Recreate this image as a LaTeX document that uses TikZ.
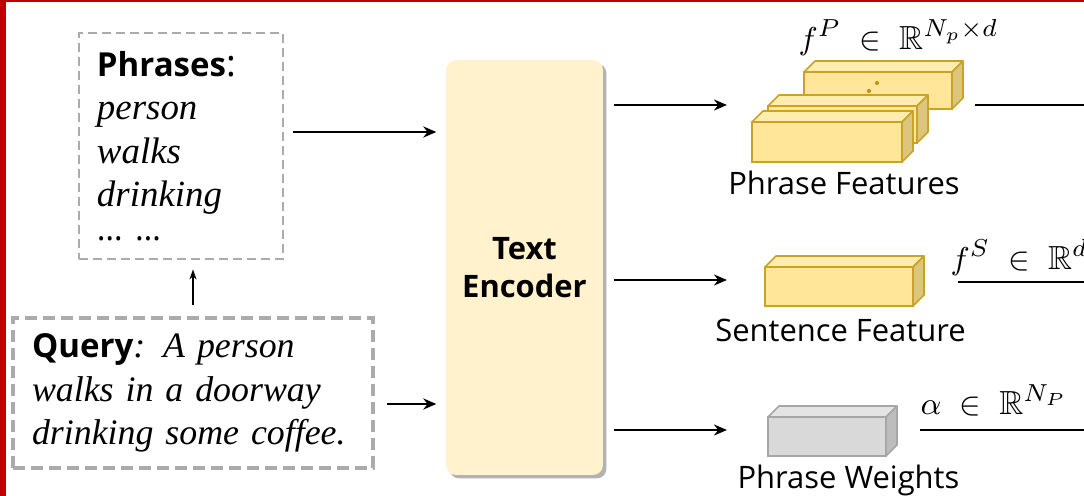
\documentclass[tikz,border=0pt]{standalone}
\usepackage{fontspec}
\setmainfont{Liberation Serif}
\setsansfont{Open Sans}
\usepackage{amssymb}
\usetikzlibrary{arrows.meta,shadows}

\definecolor{encfill}{HTML}{FFF2CC}
\definecolor{boxgray}{HTML}{ABABAB}
\definecolor{redframe}{HTML}{C00000}
\definecolor{yelfront}{HTML}{FFE699}
\definecolor{yeltop}{HTML}{FFEDB0}
\definecolor{yelside}{HTML}{DCC57E}
\definecolor{yelline}{HTML}{C9A227}
\definecolor{gryfront}{HTML}{D9D9D9}
\definecolor{grytop}{HTML}{E4E4E4}
\definecolor{gryside}{HTML}{BDBDBD}
\definecolor{gryline}{HTML}{A6A6A6}
\definecolor{dotbrown}{HTML}{BF8F00}

\tikzset{
  arr/.style={line width=0.85pt, -{Stealth[length=0.13cm,width=0.11cm]}},
  thinarr/.style={line width=0.45pt, -{Stealth[length=0.1cm,width=0.07cm]}},
  outline/.style={line width=0.85pt},
  phrbox/.style={draw=boxgray, line width=0.8pt, dash pattern=on 0.09cm off 0.05cm,
    align=left, font=\fontsize{10.5}{12.4}\selectfont\itshape},
  qrybox/.style={draw=boxgray, line width=1.1pt, dash pattern=on 0.12cm off 0.06cm,
    align=left, font=\fontsize{10.2}{12.3}\selectfont\itshape},
  encbox/.style={fill=encfill, rounded corners=0.1cm, align=center,
    drop shadow={shadow xshift=0.035cm, shadow yshift=-0.035cm, opacity=0.3, fill=black},
    font=\sffamily\bfseries\fontsize{8.8}{10.8}\selectfont},
  lbl/.style={font=\sffamily\fontsize{8.8}{10}\selectfont, inner sep=0pt},
  mathlbl/.style={font=\fontsize{9.5}{11}\selectfont, inner sep=0pt},
  box front/.style={draw=#1line, fill=#1front, line width=0.45pt, inner sep=0pt, outer sep=0pt},
  box top/.style={draw=#1line, fill=#1top, line width=0.45pt, line join=round},
  box side/.style={draw=#1line, fill=#1side, line width=0.45pt, line join=round},
}

% cuboid: name, x, y (lower left of front face), width, height, colour set
\newcommand{\featbox}[6]{%
  \node[box front=#6, minimum width=#4cm, minimum height=#5cm, anchor=south west] (#1) at (#2,#3) {};
  \draw[box top=#6] (#1.north west) -- ++(0.11,0.11) -- ++(#4,0) -- (#1.north east) -- cycle;
  \draw[box side=#6] (#1.north east) -- ++(0.11,0.11) -- ++(0,-#5) -- (#1.south east) -- cycle;
}

\newcommand{\boldhead}[1]{{\sffamily\bfseries\upshape\fontsize{9.4}{12}\selectfont #1}}

\begin{document}
\begin{tikzpicture}

\useasboundingbox (0,0) rectangle (10.84,4.96);
\clip (0,0) rectangle (10.84,4.96);

% inputs
\node[phrbox, text width=1.68cm, inner xsep=0.18cm, minimum height=2.26cm] (phr) at (1.81,3.50)
  {\boldhead{Phrases}{\sffamily\upshape:}\\ person\\ walks\\ drinking\\[-2.8pt]
   {\sffamily\upshape\fontsize{9.4}{12}\selectfont …\ …}};
\node[qrybox, text width=3.22cm, inner xsep=0.19cm, minimum height=1.50cm] (qry) at (1.93,1.03)
  {\mbox{\boldhead{Query}: A person}\\ \mbox{walks in a doorway}\\ \mbox{drinking some coffee.}};

\node[encbox, minimum width=1.57cm, minimum height=4.15cm] (enc) at (5.245,2.285) {Text\\Encoder};

\draw[thinarr, shorten <=0.11cm, shorten >=0.09cm] (qry.north) -- (qry.north |- phr.south);

\coordinate (phrout) at ([yshift=0.14cm]phr.east);
\coordinate (qryout) at ([yshift=-0.11cm]qry.east);
\draw[arr, shorten <=0.09cm, shorten >=0.09cm] (phrout) -- (phrout -| enc.west);
\draw[arr, shorten <=0.12cm, shorten >=0.09cm] (qryout) -- (qryout -| enc.west);

% phrase features
\featbox{pb}{8.04}{3.87}{1.48}{0.37}{yel}
\fill[dotbrown] (8.69,4.05) circle (0.02) (8.77,4.13) circle (0.02);
\featbox{pm}{7.68}{3.53}{1.49}{0.37}{yel}
\featbox{pf}{7.52}{3.34}{1.50}{0.40}{yel}
\node[lbl, anchor=base] (pfl) at (8.44,3.01) {Phrase Features};
\node[mathlbl, anchor=base west] (pfm) at (7.98,4.46) {$f^P \;\in\; \mathbb{R}^{N_p\times d}$};

% sentence feature
\featbox{sc}{7.65}{1.90}{1.48}{0.39}{yel}
\node[lbl, anchor=base] (scl) at (8.405,1.54) {Sentence Feature};
\node[mathlbl, anchor=base west] (scm) at (9.50,2.26) {$f^S \;\in\; \mathbb{R}^d$};

% phrase weights
\featbox{wc}{7.68}{0.40}{1.18}{0.39}{gry}
\node[lbl, anchor=base] (wcl) at (8.485,0.07) {Phrase Weights};
\node[mathlbl, anchor=base west] (wcm) at (9.20,0.81) {$\alpha \;\in\; \mathbb{R}^{N_P}$};

\coordinate (pin) at (7.27,3.91);
\coordinate (sin) at (7.27,2.16);
\coordinate (win) at (7.27,0.66);
\draw[arr, shorten <=0.1cm] (enc.east |- pin) -- (pin);
\draw[arr, shorten <=0.1cm] (enc.east |- sin) -- (sin);
\draw[arr, shorten <=0.1cm] (enc.east |- win) -- (win);

\coordinate (pout) at (10.9,3.91);
\coordinate (sout) at (10.9,2.14);
\coordinate (wout) at (10.9,0.66);
\draw[outline, shorten <=0.23cm] (pb.east |- pout) -- (pout);
\draw[outline, shorten <=0.45cm] (sc.east |- sout) -- (sout);
\draw[outline, shorten <=0.34cm] (wc.east |- wout) -- (wout);

% frame
\fill[redframe] (0,0) rectangle (0.06,4.96);
\fill[redframe] (0,4.94) rectangle (10.84,4.96);

\end{tikzpicture}
\end{document}
